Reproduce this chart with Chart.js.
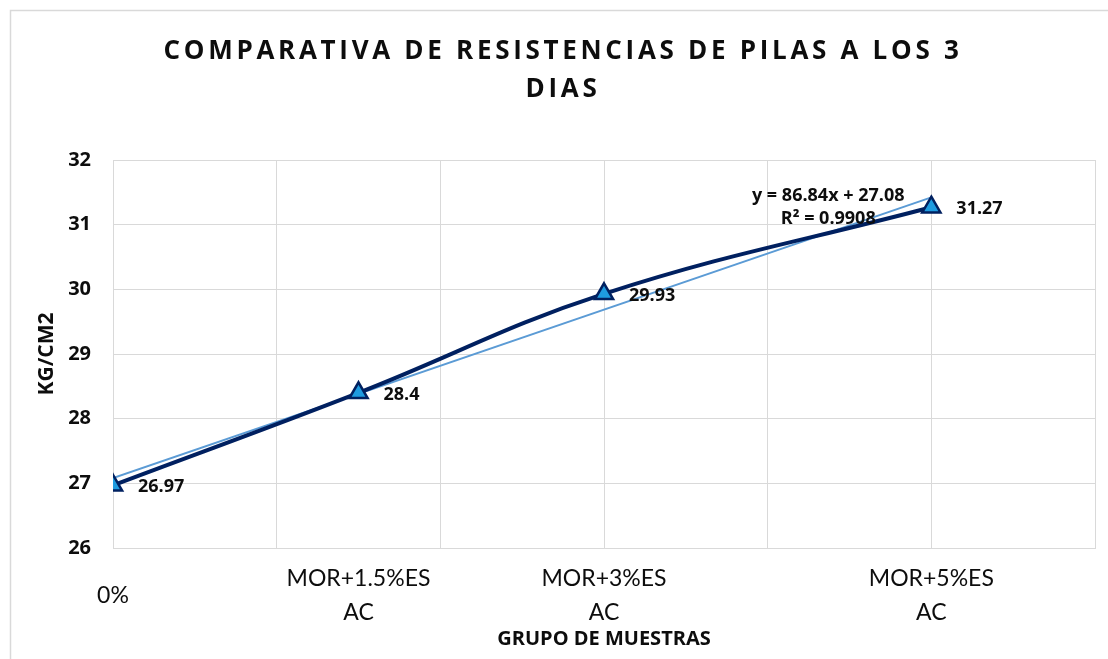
<!DOCTYPE html>
<html>
<head>
<meta charset="utf-8">
<script src="https://cdn.jsdelivr.net/npm/chart.js@4"></script>
<style>
  html, body { margin: 0; padding: 0; background: #fff; }
  #wrap { width: 1108px; height: 659px; }
</style>
</head>
<body>
<div id="wrap"><canvas id="chart" width="1108" height="659"></canvas></div>
<script>
// Data
const categories = ['0%', ['MOR+1.5%ES', 'AC'], ['MOR+3%ES', 'AC'], ['MOR+5%ES', 'AC']];
const xValues = [0, 0.015, 0.03, 0.05];
const resistencias = [26.97, 28.4, 29.93, 31.27];
const yTicks = [26, 27, 28, 29, 30, 31, 32];
const xGrid = [0, 0.01, 0.02, 0.03, 0.04, 0.05, 0.06];
// linear trendline shown on the chart
const trendSlope = 86.84;
const trendIntercept = 27.08;
const trendLabel = ['y = 86.84x + 27.08', 'R\u00b2 = 0.9908'];

const navy = '#002060';
const gridColor = '#d9d9d9';
const boldFont = 'Open Sans';

const seriesPoints = xValues.map((x, i) => ({ x: x, y: resistencias[i] }));
const trendEnds = [xValues[0], xValues[xValues.length - 1]];
const trendPoints = trendEnds.map(x => ({ x: x, y: trendSlope * x + trendIntercept }));

// frame + white background
const framePlugin = {
    id: 'frame',
    beforeDraw(chart) {
        const ctx = chart.ctx;
        ctx.save();
        ctx.fillStyle = '#fff';
        ctx.fillRect(0, 0, chart.width, chart.height);
        ctx.strokeStyle = '#d9d9d9';
        ctx.lineWidth = 1.5;
        ctx.strokeRect(10.5, 10.5, chart.width + 20, chart.height + 20);
        ctx.restore();

        // spaced-out title letters, like the original
        const t = chart.titleBlock;
        if (t && !t._spaced) {
            const orig = t.draw;
            t.draw = function () {
                const c = this.ctx;
                c.save();
                c.letterSpacing = '3.7px';
                orig.apply(this, arguments);
                c.restore();
            };
            t._spaced = true;
        }
    }
};

// value labels + trendline equation
const labelPlugin = {
    id: 'valueLabels',
    afterDatasetsDraw(chart) {
        const ctx = chart.ctx;
        const xs = chart.scales.x, ys = chart.scales.y;
        ctx.save();
        ctx.fillStyle = '#0d0d0d';
        ctx.font = 'bold 18px "' + boldFont + '"';
        ctx.textAlign = 'left';
        ctx.textBaseline = 'middle';
        resistencias.forEach((v, i) => {
            const px = xs.getPixelForValue(xValues[i]);
            const py = ys.getPixelForValue(v);
            ctx.fillText(String(v), px + 25, py + 2);
        });
        ctx.textAlign = 'center';
        const lx = xs.getPixelForValue(0.0437);
        const ly = ys.getPixelForValue(31.44);
        ctx.fillText(trendLabel[0], lx, ly);
        ctx.fillText(trendLabel[1], lx, ly + 23);
        ctx.restore();
    }
};

new Chart(document.getElementById('chart'), {
    type: 'scatter',
    data: {
        datasets: [
            {
                label: 'Resistencia',
                data: seriesPoints,
                showLine: true,
                tension: 0.4,
                borderColor: navy,
                borderWidth: 4,
                pointStyle: 'triangle',
                pointRadius: 10.5,
                pointBackgroundColor: '#1e9be0',
                pointBorderColor: navy,
                pointBorderWidth: 2.5
            },
            {
                label: 'Lineal',
                data: trendPoints,
                showLine: true,
                borderColor: '#5b9bd5',
                borderWidth: 2,
                pointRadius: 0
            }
        ]
    },
    options: {
        responsive: false,
        animation: false,
        layout: { padding: { left: 27, right: 9, top: 0, bottom: 0 } },
        plugins: {
            legend: { display: false },
            tooltip: { enabled: false },
            title: {
                display: true,
                text: ['COMPARATIVA DE RESISTENCIAS DE PILAS A LOS 3', 'DIAS'],
                color: '#0d0d0d',
                font: { family: boldFont, size: 26, weight: 'bold', lineHeight: 38 / 26 },
                padding: { top: 33, bottom: 51 }
            }
        },
        scales: {
            x: {
                type: 'linear',
                min: 0,
                max: 0.06,
                afterBuildTicks(scale) {
                    const vals = xGrid.concat([xValues[1]]).sort((a, b) => a - b);
                    scale.ticks = vals.map(v => ({ value: v }));
                },
                afterFit(scale) {
                    scale.height = 111;
                    scale.paddingLeft = 0;
                    scale.paddingRight = 0;
                },
                grid: {
                    color: ctx => (ctx.tick && xGrid.indexOf(ctx.tick.value) < 0) ? 'rgba(0,0,0,0)' : gridColor,
                    lineWidth: 1,
                    drawTicks: true,
                    tickLength: 31,
                    tickColor: 'rgba(0,0,0,0)'
                },
                border: { color: gridColor },
                ticks: {
                    autoSkip: false,
                    maxRotation: 0,
                    minRotation: 0,
                    padding: 0,
                    crossAlign: 'center',
                    color: '#0d0d0d',
                    font: { family: 'Lato', size: 23, lineHeight: 1.45 },
                    callback: v => {
                        const i = xValues.indexOf(v);
                        return i >= 0 ? categories[i] : '';
                    }
                },
                title: {
                    display: true,
                    text: 'GRUPO DE MUESTRAS',
                    color: '#0d0d0d',
                    font: { family: boldFont, size: 20, weight: 'bold' },
                    padding: { top: 0, bottom: 8 }
                }
            },
            y: {
                min: yTicks[0],
                max: yTicks[yTicks.length - 1],
                afterBuildTicks(scale) {
                    scale.ticks = yTicks.map(v => ({ value: v }));
                },
                afterFit(scale) { scale.width = 86; },
                grid: { color: gridColor, lineWidth: 1, drawTicks: false },
                border: { color: gridColor },
                ticks: {
                    padding: 22,
                    color: '#0d0d0d',
                    font: { family: boldFont, size: 20, weight: 'bold' }
                },
                title: {
                    display: true,
                    text: 'KG/CM2',
                    color: '#0d0d0d',
                    font: { family: boldFont, size: 21, weight: 'bold' },
                    padding: { top: 7, bottom: 0 }
                }
            }
        }
    },
    plugins: [framePlugin, labelPlugin]
});
</script>
</body>
</html>
